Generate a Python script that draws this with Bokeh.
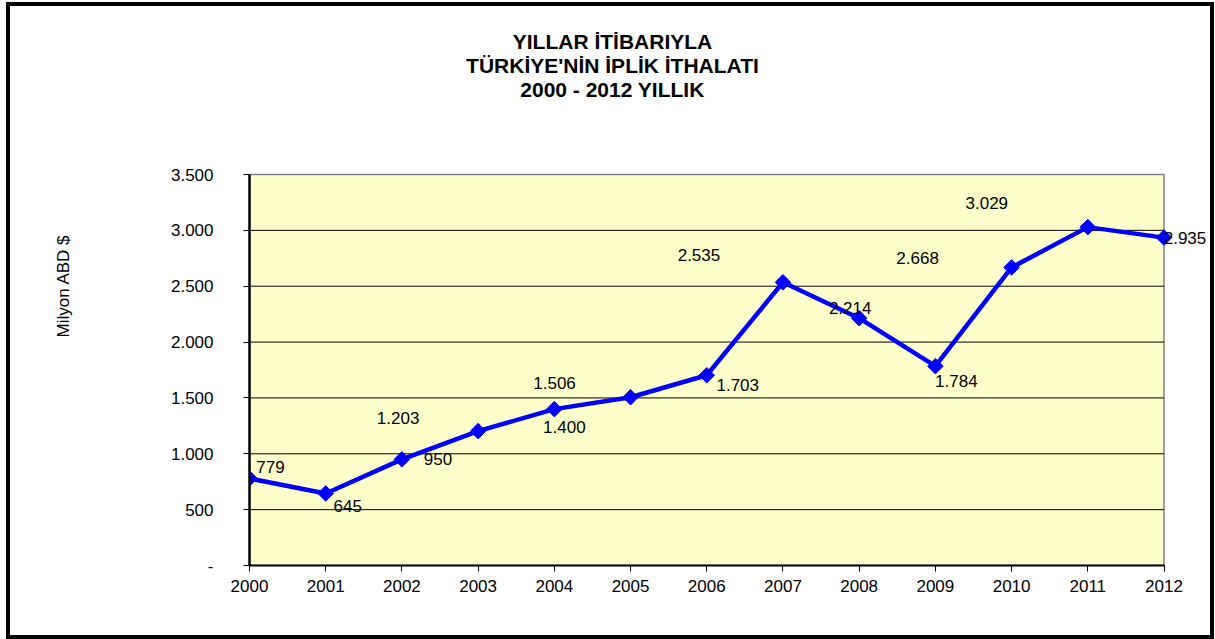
import math
from bokeh.plotting import figure
from bokeh.models import ColumnDataSource, LabelSet, Label, FixedTicker, Range1d
from bokeh.core.properties import value
from bokeh.embed import file_html
from bokeh.resources import INLINE

# ---- data ----
years = [2000, 2001, 2002, 2003, 2004, 2005, 2006, 2007, 2008, 2009, 2010, 2011, 2012]
imports = [779, 645, 950, 1203, 1400, 1506, 1703, 2535, 2214, 1784, 2668, 3029, 2935]
y_ticks = [0, 500, 1000, 1500, 2000, 2500, 3000, 3500]
y_tick_labels = ["-", "500", "1.000", "1.500", "2.000", "2.500", "3.000", "3.500"]
title_lines = ["YILLAR İTİBARIYLA", "TÜRKİYE'NİN İPLİK İTHALATI", "2000 - 2012 YILLIK"]
y_title = "Milyon ABD $"

# label pixel offsets (screen: dx right, dy up)
label_dx = [21, 22, 36, -80, 10, -76, 31, -84, -9, 21, -94, -101, 21]
label_dy = [11, -13, 0, 13, -18, 14, -10, 27, 10, -15, 9, 24, 0]

FONT = "Liberation Sans"

# ---- layout (page pixels) ----
EX, EY, B = 6, 2, 4          # element origin and border width
W, H = 1208, 637             # element size
CX, CY = EX + B, EY + B      # canvas origin
AX0, AX1 = 249, 1163.5       # screen x of first / last year
AY0, AY1 = 565, 174          # screen y of first / last y tick
FL, FR, FT, FB = AX0, 1207, CY, AY0   # frame edges
ppx = (AX1 - AX0) / (years[-1] - years[0])
ppy = (AY0 - AY1) / (y_ticks[-1] - y_ticks[0])
x_end = years[-1] + (FR - AX1) / ppx
y_end = y_ticks[-1] + (AY1 - FT) / ppy

p = figure(width=W, height=H, output_backend="svg", toolbar_location=None,
           x_range=Range1d(years[0], x_end), y_range=Range1d(y_ticks[0], y_end),
           min_border_left=FL - CX, min_border_right=(CX + W) - FR,
           min_border_top=FT - CY, min_border_bottom=(CY + H) - FB)
p.styles = {"margin-left": f"{EX}px", "margin-top": f"{EY}px",
            "border": f"{B}px solid black"}
p.background_fill_color = "white"
p.border_fill_color = "white"
p.outline_line_color = None
p.xgrid.visible = False
p.ygrid.visible = False

# plot area background and grid lines
p.quad(left=[years[0]], right=[years[-1]], bottom=[y_ticks[0]], top=[y_ticks[-1]],
       fill_color="#FFFFCC", line_color="#808080", line_width=1.5, level="underlay")
grid_y = y_ticks[1:-1]
p.segment(x0=[years[0]] * len(grid_y), x1=[years[-1]] * len(grid_y), y0=grid_y, y1=grid_y,
          line_color="black", line_width=1, level="underlay")

# y axis
p.yaxis.bounds = (y_ticks[0], y_ticks[-1])
p.yaxis.ticker = FixedTicker(ticks=y_ticks)
p.yaxis.major_label_overrides = {t: l for t, l in zip(y_ticks, y_tick_labels)}
p.yaxis.axis_line_width = 2.5
p.yaxis.axis_line_color = "black"
p.yaxis.major_tick_out = 6
p.yaxis.major_tick_in = 0
p.yaxis.minor_tick_out = 0
p.yaxis.minor_tick_in = 0
p.yaxis.major_label_standoff = 30
p.yaxis.major_label_text_font = FONT
p.yaxis.major_label_text_font_size = "17px"
p.yaxis.major_label_text_color = "black"
p.yaxis.axis_label = y_title
p.yaxis.axis_label_standoff = 95
p.yaxis.axis_label_text_font = FONT
p.yaxis.axis_label_text_font_size = "17px"
p.yaxis.axis_label_text_font_style = "normal"
p.yaxis.axis_label_text_color = "black"

# x axis
p.xaxis.bounds = (years[0], years[-1])
p.xaxis.ticker = FixedTicker(ticks=years)
p.xaxis.major_label_overrides = {y: str(y) for y in years}
p.xaxis.axis_line_width = 2
p.xaxis.axis_line_color = "black"
p.xaxis.major_tick_out = 6
p.xaxis.major_tick_in = 0
p.xaxis.minor_tick_out = 0
p.xaxis.minor_tick_in = 0
p.xaxis.major_label_standoff = 8
p.xaxis.major_label_text_font = FONT
p.xaxis.major_label_text_font_size = "17px"
p.xaxis.major_label_text_color = "black"

src = ColumnDataSource(dict(
    x=years, y=imports,
    txt=[f"{v:,}".replace(",", ".") for v in imports],
    dx=label_dx, dy=label_dy,
))

p.line("x", "y", source=src, line_color="#0000FF", line_width=4.5)
p.scatter("x", "y", source=src, marker="square", angle=math.pi / 4, size=11,
          fill_color="#0000FF", line_color="#0000FF")

labels = LabelSet(x="x", y="y", text="txt", x_offset="dx", y_offset="dy", source=src,
                  text_align="center", text_baseline="middle",
                  text_font=value(FONT), text_font_size="17px", text_color="black")
p.add_layout(labels)

# main title: three centred lines above the plot area
title_cx = 612
title_cy = [41, 65, 89]
for line, cy in zip(title_lines, title_cy):
    p.add_layout(Label(x=years[0] + (title_cx - AX0) / ppx,
                       y=y_ticks[-1] + (AY1 - cy) / ppy,
                       text=line, text_align="center", text_baseline="middle",
                       text_font=FONT, text_font_size="21px", text_font_style="bold",
                       text_color="black"))

open("out.html", "w").write(file_html(p, INLINE))
